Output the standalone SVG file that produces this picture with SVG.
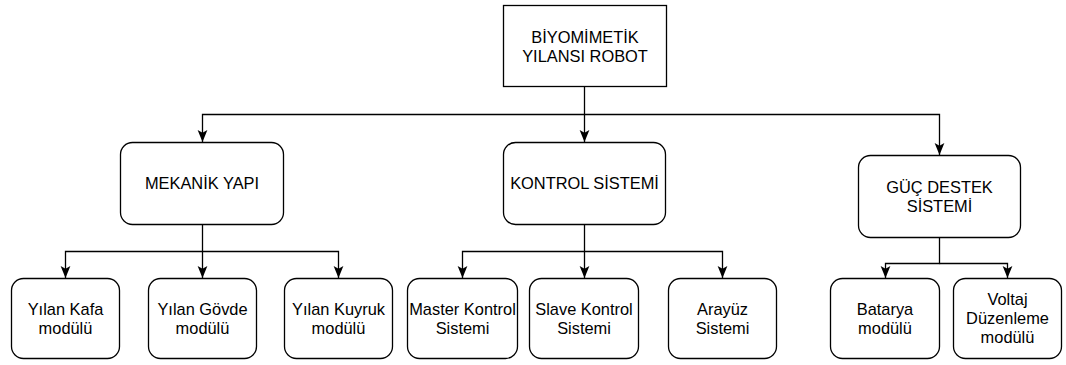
<svg xmlns="http://www.w3.org/2000/svg" width="1066" height="365" viewBox="0 0 1066 365">
<style>
.box{fill:#fff;stroke:#000;stroke-width:1.3}
.t{font-family:"Liberation Sans",Arial,sans-serif;font-size:16.4px;fill:#000;text-anchor:middle}
.c{fill:none;stroke:#000;stroke-width:1.3}
</style>
<defs>
<marker id="arr" markerUnits="userSpaceOnUse" markerWidth="13" markerHeight="13" viewBox="0 0 12 10" refX="11" refY="5" orient="auto">
<path d="M0,0.5 L11,5 L0,9.5 L2.5,5 Z" fill="#000"/>
</marker>
</defs>
<rect width="1066" height="365" fill="#fff"/>
<g id="connectors">
<path class="c" d="M584.5,87 V142" marker-end="url(#arr)"/>
<path class="c" d="M584.5,114.5 H202.5 V142" marker-end="url(#arr)"/>
<path class="c" d="M584.5,114.5 H939.5 V155" marker-end="url(#arr)"/>
<path class="c" d="M202.5,224 V278" marker-end="url(#arr)"/>
<path class="c" d="M202.5,251.5 H65.5 V278" marker-end="url(#arr)"/>
<path class="c" d="M202.5,251.5 H338.5 V278" marker-end="url(#arr)"/>
<path class="c" d="M584.5,224 V278" marker-end="url(#arr)"/>
<path class="c" d="M584.5,251.5 H462.5 V278" marker-end="url(#arr)"/>
<path class="c" d="M584.5,251.5 H722.5 V278" marker-end="url(#arr)"/>
<path class="c" d="M939.5,237 V263.5 H885.5 V278" marker-end="url(#arr)"/>
<path class="c" d="M939.5,263.5 H1007.5 V278" marker-end="url(#arr)"/>
</g>
<g id="root">
<rect class="box" x="503.5" y="5.5" width="163" height="81"/>
<text class="t" x="585" y="42.5">BİYOMİMETİK</text>
<text class="t" x="585" y="61.5">YILANSI ROBOT</text>
</g>
<g id="mekanik">
<rect class="box" x="120.5" y="142.5" width="163" height="82" rx="12"/>
<text class="t" x="202" y="189">MEKANİK YAPI</text>
</g>
<g id="kontrol">
<rect class="box" x="503.5" y="142.5" width="162" height="82" rx="12"/>
<text class="t" x="584.5" y="189">KONTROL SİSTEMİ</text>
</g>
<g id="guc">
<rect class="box" x="858.5" y="155.5" width="162" height="82" rx="12"/>
<text class="t" x="939.5" y="192.5">GÜÇ DESTEK</text>
<text class="t" x="939.5" y="211.5">SİSTEMİ</text>
</g>
<g id="kafa">
<rect class="box" x="11.5" y="278.5" width="108" height="80" rx="12"/>
<text class="t" x="65.5" y="314.5">Yılan Kafa</text>
<text class="t" x="65.5" y="333.5">modülü</text>
</g>
<g id="govde">
<rect class="box" x="148.5" y="278.5" width="108" height="80" rx="12"/>
<text class="t" x="202.5" y="314.5">Yılan Gövde</text>
<text class="t" x="202.5" y="333.5">modülü</text>
</g>
<g id="kuyruk">
<rect class="box" x="284.5" y="278.5" width="108" height="80" rx="12"/>
<text class="t" x="338.5" y="314.5">Yılan Kuyruk</text>
<text class="t" x="338.5" y="333.5">modülü</text>
</g>
<g id="master">
<rect class="box" x="407.5" y="278.5" width="110" height="80" rx="12"/>
<text class="t" x="462.5" y="314.5">Master Kontrol</text>
<text class="t" x="462.5" y="333.5">Sistemi</text>
</g>
<g id="slave">
<rect class="box" x="529.5" y="278.5" width="109" height="80" rx="12"/>
<text class="t" x="584" y="314.5">Slave Kontrol</text>
<text class="t" x="584" y="333.5">Sistemi</text>
</g>
<g id="arayuz">
<rect class="box" x="668.5" y="278.5" width="108" height="80" rx="12"/>
<text class="t" x="722.5" y="314.5">Arayüz</text>
<text class="t" x="722.5" y="333.5">Sistemi</text>
</g>
<g id="batarya">
<rect class="box" x="830.5" y="278.5" width="109" height="80" rx="12"/>
<text class="t" x="885" y="314.5">Batarya</text>
<text class="t" x="885" y="333.5">modülü</text>
</g>
<g id="voltaj">
<rect class="box" x="953.5" y="278.5" width="108" height="80" rx="12"/>
<text class="t" x="1007.5" y="305">Voltaj</text>
<text class="t" x="1007.5" y="324">Düzenleme</text>
<text class="t" x="1007.5" y="343">modülü</text>
</g>
</svg>
